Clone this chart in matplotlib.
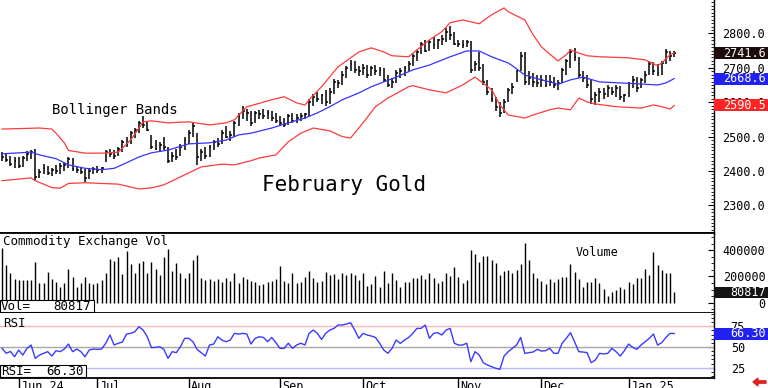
import numpy as np
import matplotlib
matplotlib.use("Agg")
import matplotlib.pyplot as plt
from matplotlib.patches import Rectangle, FancyArrow
from matplotlib.transforms import blended_transform_factory
from matplotlib.ticker import MultipleLocator

MONO = "DejaVu Sans Mono"

# month starts (trading-day index) and their labels
month_idx = [4, 23, 45, 67, 87, 110, 130, 151]
month_lbl = ["Jun 24", "Jul", "Aug", "Sep", "Oct", "Nov", "Dec", "Jan 25"]

# daily bars, February gold
high = [2455, 2452, 2445, 2440, 2442, 2445, 2458, 2462, 2465, 2405,
        2420, 2415, 2410, 2418, 2422, 2425, 2442, 2438, 2415, 2412,
        2405, 2405, 2412, 2415, 2412, 2462, 2465, 2460, 2470, 2490,
        2500, 2515, 2525, 2545, 2560, 2545, 2505, 2490, 2485, 2500,
        2470, 2455, 2465, 2480, 2500, 2520, 2540, 2510, 2465, 2470,
        2475, 2490, 2495, 2520, 2530, 2515, 2545, 2570, 2588, 2580,
        2575, 2575, 2578, 2580, 2578, 2575, 2570, 2560, 2555, 2565,
        2570, 2565, 2568, 2570, 2610, 2625, 2630, 2625, 2635, 2640,
        2668, 2665, 2690, 2705, 2722, 2720, 2705, 2710, 2708, 2705,
        2708, 2702, 2700, 2680, 2670, 2695, 2700, 2705, 2720, 2740,
        2752, 2775, 2780, 2780, 2790, 2785, 2795, 2815, 2822, 2805,
        2780, 2782, 2782, 2778, 2720, 2745, 2712, 2665, 2640, 2615,
        2600, 2610, 2640, 2655, 2695, 2745, 2745, 2690, 2685, 2680,
        2678, 2680, 2678, 2672, 2665, 2700, 2725, 2755, 2758, 2730,
        2690, 2680, 2665, 2630, 2640, 2640, 2650, 2645, 2650, 2648,
        2625, 2660, 2675, 2672, 2670, 2690, 2720, 2718, 2710, 2720,
        2755, 2750, 2750]
low = [2430, 2425, 2415, 2408, 2410, 2412, 2430, 2435, 2370, 2380,
       2390, 2388, 2385, 2392, 2392, 2400, 2410, 2400, 2395, 2390,
       2368, 2378, 2392, 2395, 2395, 2425, 2440, 2435, 2445, 2455,
       2470, 2478, 2495, 2510, 2525, 2515, 2465, 2460, 2455, 2460,
       2422, 2425, 2432, 2445, 2460, 2480, 2500, 2418, 2430, 2435,
       2440, 2460, 2470, 2478, 2495, 2488, 2500, 2530, 2550, 2545,
       2530, 2540, 2552, 2550, 2550, 2545, 2540, 2530, 2528, 2535,
       2540, 2540, 2545, 2550, 2560, 2590, 2600, 2595, 2590, 2595,
       2625, 2640, 2650, 2670, 2690, 2685, 2675, 2680, 2670, 2675,
       2680, 2675, 2660, 2645, 2640, 2655, 2670, 2675, 2690, 2705,
       2720, 2740, 2745, 2750, 2755, 2755, 2765, 2775, 2780, 2765,
       2760, 2758, 2760, 2685, 2690, 2690, 2650, 2620, 2600, 2575,
       2558, 2570, 2600, 2625, 2660, 2690, 2650, 2650, 2645, 2645,
       2645, 2645, 2648, 2640, 2636, 2655, 2680, 2700, 2720, 2670,
       2660, 2640, 2595, 2592, 2600, 2610, 2615, 2620, 2615, 2605,
       2600, 2615, 2640, 2630, 2640, 2655, 2680, 2680, 2675, 2680,
       2710, 2720, 2730]
close = [2440, 2432, 2420, 2430, 2415, 2438, 2450, 2455, 2382, 2398,
         2410, 2395, 2402, 2400, 2415, 2418, 2435, 2405, 2402, 2398,
         2380, 2400, 2405, 2402, 2408, 2455, 2450, 2445, 2465, 2485,
         2480, 2510, 2520, 2540, 2535, 2520, 2470, 2465, 2475, 2470,
         2430, 2445, 2440, 2470, 2490, 2510, 2530, 2440, 2455, 2445,
         2470, 2485, 2480, 2510, 2500, 2505, 2540, 2560, 2575, 2570,
         2540, 2570, 2565, 2560, 2570, 2555, 2545, 2540, 2535, 2560,
         2545, 2555, 2560, 2565, 2600, 2615, 2610, 2620, 2600, 2630,
         2660, 2655, 2680, 2700, 2710, 2695, 2690, 2700, 2680, 2700,
         2690, 2695, 2665, 2650, 2660, 2685, 2690, 2700, 2712, 2735,
         2745, 2770, 2750, 2775, 2765, 2780, 2785, 2805, 2795, 2770,
         2770, 2765, 2775, 2695, 2710, 2700, 2660, 2630, 2610, 2585,
         2570, 2600, 2635, 2645, 2690, 2735, 2660, 2670, 2660, 2655,
         2665, 2650, 2660, 2650, 2655, 2695, 2720, 2745, 2730, 2680,
         2670, 2650, 2610, 2620, 2630, 2625, 2640, 2630, 2640, 2615,
         2620, 2655, 2665, 2640, 2665, 2680, 2710, 2690, 2685, 2715,
         2745, 2735, 2741.6]

# Bollinger bands read at sample days
upper_idx = [0, 9, 12, 13, 15, 16, 20, 24, 26, 28, 31, 33, 34, 36, 40, 45, 50,
             54, 56, 59, 60, 65, 68, 71, 73, 74, 77, 81, 86, 89, 92, 94, 98,
             100, 103, 106, 108, 111, 115, 118, 121, 122, 126, 128, 130, 132,
             134, 136, 137, 139, 141, 144, 151, 155, 158, 159, 161, 162]
upper_val = [2522, 2525, 2522, 2510, 2482, 2460, 2452, 2452, 2453, 2455, 2490,
             2525, 2543, 2546, 2540, 2543, 2534, 2540, 2549, 2587, 2590, 2607,
             2616, 2598, 2592, 2607, 2645, 2703, 2746, 2758, 2746, 2735, 2732,
             2752, 2781, 2805, 2831, 2839, 2828, 2854, 2874, 2863, 2839, 2796,
             2761, 2740, 2720, 2738, 2752, 2743, 2735, 2732, 2729, 2723, 2706,
             2714, 2738, 2743]
mid_idx = [0, 7, 9, 13, 16, 20, 24, 27, 30, 33, 36, 40, 45, 50, 54, 57, 60,
           65, 69, 73, 76, 79, 82, 86, 89, 92, 95, 99, 103, 108, 112, 115,
           118, 120, 122, 123, 126, 130, 133, 134, 137, 140, 144, 149, 154,
           158, 160, 162]
mid_val = [2450, 2455, 2447, 2436, 2418, 2408, 2404, 2408, 2424, 2441, 2453,
           2461, 2479, 2482, 2490, 2505, 2510, 2525, 2540, 2554, 2569, 2587,
           2607, 2627, 2645, 2659, 2673, 2694, 2708, 2732, 2749, 2749, 2732,
           2723, 2714, 2706, 2679, 2665, 2656, 2652, 2665, 2673, 2659, 2656,
           2653, 2650, 2656, 2668.6]
lower_idx = [0, 7, 8, 12, 14, 16, 20, 24, 28, 33, 36, 39, 43, 48, 53, 56, 60,
             62, 66, 69, 72, 75, 79, 82, 84, 87, 90, 93, 98, 99, 103, 107,
             111, 114, 118, 120, 122, 126, 128, 132, 134, 137, 139, 141, 143,
             148, 154, 157, 159, 161, 162]
lower_val = [2372, 2380, 2372, 2352, 2350, 2364, 2366, 2364, 2362, 2348, 2351,
             2360, 2383, 2412, 2420, 2418, 2430, 2438, 2447, 2485, 2510, 2525,
             2517, 2500, 2496, 2540, 2587, 2612, 2645, 2648, 2636, 2627, 2650,
             2673, 2636, 2592, 2563, 2554, 2563, 2578, 2583, 2578, 2612, 2601,
             2595, 2587, 2583, 2592, 2587, 2580, 2590.5]

# volume, thousands of contracts
volume = [414, 287, 223, 178, 172, 172, 172, 172, 312, 147,
          147, 236, 178, 160, 122, 147, 254, 198, 117, 147,
          193, 147, 142, 152, 172, 228, 332, 320, 350, 218,
          396, 294, 223, 299, 317, 228, 309, 254, 211, 350,
          406, 244, 299, 223, 185, 228, 325, 363, 190, 172,
          178, 168, 178, 160, 185, 168, 228, 152, 193, 178,
          168, 160, 135, 142, 160, 168, 178, 279, 168, 152,
          228, 147, 160, 193, 244, 185, 160, 168, 236, 211,
          218, 178, 228, 211, 228, 211, 172, 228, 127, 142,
          203, 122, 244, 147, 223, 172, 122, 160, 160, 185,
          185, 211, 178, 223, 185, 152, 168, 228, 203, 269,
          198, 152, 172, 401, 370, 307, 355, 355, 325, 299,
          211, 244, 249, 223, 249, 294, 456, 325, 228, 185,
          168, 142, 178, 160, 178, 193, 193, 294, 236, 178,
          122, 155, 160, 190, 152, 101, 51, 84, 96, 117,
          101, 160, 142, 185, 185, 254, 211, 388, 287, 249,
          223, 223, 80.817]

rsi = [48.4, 42.4, 44.7, 38.3, 46.4, 40.3, 48.4, 52.4, 36.3, 40.3,
       42.4, 44.4, 39.1, 45.6, 44.4, 47.6, 53.6, 44.4, 47.6, 44.4,
       38.3, 46.4, 47.6, 47.2, 47.6, 54.6, 64.5, 52.4, 54.6, 56.0,
       65.7, 66.5, 68.5, 74.5, 70.5, 62.4, 49.2, 49.6, 50.4, 47.2,
       36.3, 44.4, 43.2, 50.4, 60.5, 60.5, 56.4, 47.2, 43.2, 39.1,
       52.4, 53.6, 62.4, 58.4, 56.4, 58.4, 66.5, 65.7, 66.5, 65.7,
       53.6, 60.5, 62.4, 61.6, 56.4, 61.6, 55.2, 48.4, 48.4, 54.6,
       48.4, 52.4, 54.6, 52.4, 66.5, 70.5, 66.5, 59.2, 66.5, 70.5,
       72.5, 76.6, 76.6, 77.8, 79.4, 70.5, 60.5, 66.5, 64.5, 63.3,
       61.6, 54.6, 46.4, 42.4, 48.4, 58.4, 54.4, 58.4, 61.6, 66.5,
       72.5, 72.5, 76.6, 60.5, 66.5, 67.3, 64.5, 70.5, 72.5, 54.6,
       52.4, 52.4, 54.6, 32.3, 44.4, 40.3, 31.1, 28.3, 26.3, 24.3,
       23.1, 39.1, 44.4, 48.4, 52.4, 61.6, 42.4, 43.2, 44.0, 47.2,
       45.2, 45.6, 48.4, 42.4, 42.4, 54.6, 60.5, 67.3, 56.4, 44.4,
       44.0, 43.2, 31.1, 34.3, 42.4, 41.6, 42.4, 48.4, 44.4, 39.1,
       45.6, 53.6, 49.6, 47.2, 52.4, 56.4, 60.5, 65.7, 52.4, 55.2,
       61.6, 66.5, 66.30]

days = np.arange(len(close))
vol = np.array(volume) * 1000

fig = plt.figure(figsize=(7.68, 3.88), dpi=100)
W = 714 / 768
ax = fig.add_axes([0, 1 - 233 / 388, W, 233 / 388])
axv = fig.add_axes([0, 1 - 313 / 388, W, 80 / 388])
axr = fig.add_axes([0, 1 - 378 / 388, W, 65 / 388])

for a in (ax, axv, axr):
    a.set_xlim(-0.5, 171.6)
    a.spines["left"].set_visible(False)
    a.spines["top"].set_visible(False)
    a.spines["right"].set_linewidth(1.0)
    a.spines["bottom"].set_linewidth(1.3)
    a.yaxis.tick_right()
    a.tick_params(axis="y", which="major", direction="in", length=4,
                  labelsize=8.5, labelfontfamily=MONO)
    a.tick_params(axis="y", which="minor", direction="in", length=2)
    a.set_xticks([])
axv.spines["top"].set_visible(True)
axv.spines["top"].set_linewidth(1.3)

# price panel
ax.vlines(days, low, high, color="black", lw=1.1)
ax.hlines(close, days, days + 0.45, color="black", lw=1.1)
ax.plot(upper_idx, upper_val, color="#ff3b3b", lw=0.9)
ax.plot(lower_idx, lower_val, color="#ff3b3b", lw=0.9)
ax.plot(mid_idx, mid_val, color="#3434ff", lw=0.9)
ax.set_ylim(2220, 2897)
ax.set_yticks([2300, 2400, 2500, 2600, 2700, 2800])
ax.set_yticklabels(["%.1f" % v for v in [2300, 2400, 2500, 2600, 2700, 2800]])
ax.yaxis.set_minor_locator(MultipleLocator(10))
ax.tick_params(axis="y", pad=6)
ax.text(52 / 714, 0.528, "Bollinger Bands", transform=ax.transAxes,
        fontsize=10, family=MONO, va="center")
ax.text(262 / 714, 0.206, "February Gold", transform=ax.transAxes,
        fontsize=15, family=MONO, va="center")

# volume panel
axv.vlines(days, 0, vol, color="black", lw=1.0)
axv.set_ylim(-78000, 530000)
axv.set_yticks([0, 200000, 400000])
axv.set_yticklabels(["0", "200000", "400000"], ha="right")
axv.yaxis.set_minor_locator(MultipleLocator(50000))
axv.tick_params(axis="y", pad=37)
axv.text(0.004, 0.98, "Commodity Exchange Vol", transform=axv.transAxes,
         fontsize=9, family=MONO, va="top")
axv.text(576 / 714, 0.75, "Volume", transform=axv.transAxes,
         fontsize=8.5, family=MONO, va="center")
axv.add_patch(Rectangle((0, 0.0125), 94 / 714, 0.15, transform=axv.transAxes,
                        fc="white", ec="black", lw=0.8, zorder=5, clip_on=False))
axv.text(1 / 714, 0.0875, "Vol=", transform=axv.transAxes, fontsize=9,
         family=MONO, va="center", zorder=6)
axv.text(91 / 714, 0.0875, "80817", transform=axv.transAxes, fontsize=9,
         family=MONO, va="center", ha="right", zorder=6)

# RSI panel
axr.axhline(75, color="#ffb8b8", lw=1.0)
axr.axhline(50, color="#a8a8a8", lw=1.0)
axr.axhline(25, color="#b8b8ff", lw=1.0)
axr.plot(days, rsi, color="#3a3aff", lw=1.0)
axr.set_ylim(12.6, 91.1)
axr.set_yticks([25, 50, 75])
axr.yaxis.set_minor_locator(MultipleLocator(5))
axr.tick_params(axis="y", pad=12)
axr.text(0.004, 0.94, "RSI", transform=axr.transAxes, fontsize=9,
         family=MONO, va="top")
axr.add_patch(Rectangle((0, 0.015), 86 / 714, 0.185, transform=axr.transAxes,
                        fc="white", ec="black", lw=0.8, zorder=5, clip_on=False))
axr.text(1 / 714, 0.1075, "RSI=", transform=axr.transAxes, fontsize=9,
         family=MONO, va="center", zorder=6)
axr.text(84 / 714, 0.1075, "66.30", transform=axr.transAxes, fontsize=9,
         family=MONO, va="center", ha="right", zorder=6)

# month ticks below the RSI panel
axr.set_xticks(month_idx)
axr.set_xticklabels([""] * len(month_idx))
axr.tick_params(axis="x", direction="out", length=8, width=1.0)
trx = blended_transform_factory(axr.transData, axr.transAxes)
for m, lbl in zip(month_idx, month_lbl):
    axr.text(m + 0.5, -0.03, lbl, transform=trx, fontsize=8.5, family=MONO,
             va="top", ha="left", clip_on=False)


def tag(a, v, txt, fc, px_h):
    lo, hi = a.get_ylim()
    ah = a.get_position().height * 388
    h = px_h * (hi - lo) / ah
    tr = blended_transform_factory(a.transAxes, a.transData)
    a.add_patch(Rectangle((1.0, v - h / 2), 54 / 714, h, transform=tr, fc=fc,
                          ec="none", zorder=5, clip_on=False))
    a.text(1 + 52 / 714, v, txt, transform=tr, ha="right", va="center",
           color="white", fontsize=8.5, family=MONO, zorder=6, clip_on=False)


tag(ax, close[-1], "%.1f" % close[-1], "#1c0c0c", 12)
tag(ax, mid_val[-1], "%.1f" % mid_val[-1], "#2222f0", 12)
tag(ax, lower_val[-1], "%.1f" % lower_val[-1], "#ff2424", 12)
tag(axv, vol[-1], "%d" % vol[-1], "#151515", 11)
tag(axr, rsi[-1], "%.2f" % rsi[-1], "#2222f0", 12)

fig.add_artist(FancyArrow(766 / 768, 1 - 382 / 388, -8 / 768, 0,
                          width=0.006, head_width=0.02, head_length=5 / 768,
                          color="#e02020", transform=fig.transFigure))

fig.savefig("out.png", dpi=100)
